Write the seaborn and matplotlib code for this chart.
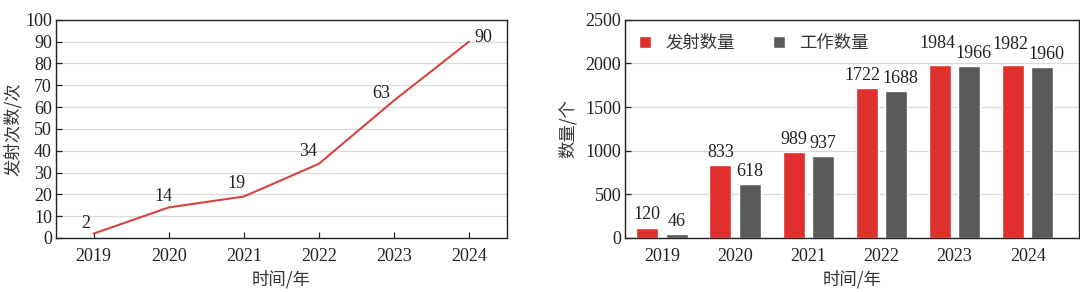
import matplotlib
matplotlib.use("Agg")
import matplotlib.pyplot as plt
import seaborn as sns
import pandas as pd

years = ["2019", "2020", "2021", "2022", "2023", "2024"]
launch_times = [2, 14, 19, 34, 63, 90]
launched_count = [120, 833, 989, 1722, 1984, 1982]
working_count = [46, 618, 937, 1688, 1966, 1960]
series_names = ["发射数量", "工作数量"]

sns.set_theme(style="white")
FAM = ["Liberation Serif", "Noto Sans CJK SC", "DejaVu Sans"]
plt.rcParams["font.family"] = FAM
plt.rcParams["axes.unicode_minus"] = False

fig = plt.figure(figsize=(10.8, 2.92), dpi=100)
ax1 = fig.add_axes([0.052, 0.185, 0.417, 0.747])
ax2 = fig.add_axes([0.579, 0.185, 0.420, 0.747])

TICK_FS = 13
LAB_FS = 12.5
GRID = "#d9d9d9"

# ---- left: line chart ----
df1 = pd.DataFrame({"idx": range(len(years)), "year": years, "n": launch_times})
sns.lineplot(data=df1, x="idx", y="n", ax=ax1, color="#d4453f", linewidth=1.5)
ax1.set_xlim(-0.5, 5.5)
ax1.set_ylim(0, 100)
ax1.set_xticks(range(len(years)))
ax1.set_xticklabels(years)
ax1.set_yticks(range(0, 101, 10))
ax1.yaxis.grid(True, color=GRID, linewidth=0.9)
ax1.set_axisbelow(True)
ax1.set_xlabel("时间/年", fontsize=LAB_FS, family=["Noto Sans CJK SC"], color="#333333", labelpad=4)
ax1.set_ylabel("发射次数/次", fontsize=LAB_FS, family=["Noto Sans CJK SC"], color="#333333", labelpad=2)
label_off = [(-6, 1), (-4, 2), (-5, 3), (-8, 3), (-9, -1), (10, -3)]
for i, v in enumerate(launch_times):
    dx, dy = label_off[i]
    ax1.annotate(str(v), (i, v), xytext=(dx, dy), textcoords="offset points",
                 ha="center", va="bottom", fontsize=TICK_FS, color="#222222")

# ---- right: grouped bars ----
df2 = pd.DataFrame({
    "year": years * 2,
    "value": launched_count + working_count,
    "series": [series_names[0]] * len(years) + [series_names[1]] * len(years),
})
sns.barplot(data=df2, x="year", y="value", hue="series", ax=ax2,
            palette=["#e0302d", "#5b5a59"], width=0.8, gap=0.25,
            saturation=1, legend=True)
ax2.set_xlim(-0.5, 5.7)
ax2.set_ylim(0, 2500)
ax2.set_yticks(range(0, 2501, 500))
ax2.yaxis.grid(True, color=GRID, linewidth=0.9)
ax2.set_axisbelow(True)
ax2.set_xlabel("时间/年", fontsize=LAB_FS, family=["Noto Sans CJK SC"], color="#333333", labelpad=4)
ax2.set_ylabel("数量/个", fontsize=LAB_FS, family=["Noto Sans CJK SC"], color="#333333", labelpad=6)

red_pad = [3, 3, 3, 3, 9, 9]
gray_pad = [3, 3, 3, 3, 3, 3]
red_dx = [0, 0, 0, -3, -2, -2]
gray_dx = [0, 0, 0, 3, 3, 3]
for cont, pads, dxs in [(ax2.containers[0], red_pad, red_dx), (ax2.containers[1], gray_pad, gray_dx)]:
    for bar, p, dx in zip(cont, pads, dxs):
        h = bar.get_height()
        ax2.annotate(f"{int(h)}", (bar.get_x() + bar.get_width() / 2, h),
                     xytext=(dx, p), textcoords="offset points",
                     ha="center", va="bottom", fontsize=TICK_FS, color="#222222")

leg = ax2.legend(loc="upper left", ncol=2, frameon=False,
                 handlelength=0.7, handleheight=0.7, columnspacing=2.2,
                 borderaxespad=0.4, handletextpad=0.8,
                 prop={"family": ["Noto Sans CJK SC"], "size": 12.5})
for t in leg.get_texts():
    t.set_color("#333333")

for ax in (ax1, ax2):
    for s in ax.spines.values():
        s.set_visible(True)
        s.set_color("#222222")
        s.set_linewidth(1.0)
    ax.tick_params(axis="both", labelsize=TICK_FS, colors="#222222", direction="in",
                   length=4, width=0.9)
    ax.tick_params(axis="y", left=True, pad=3)
    for lab in ax.get_xticklabels() + ax.get_yticklabels():
        lab.set_family(FAM)
ax1.tick_params(axis="x", bottom=True, pad=7)
ax2.tick_params(axis="x", bottom=False, pad=7)

fig.savefig("out.png", dpi=100)
